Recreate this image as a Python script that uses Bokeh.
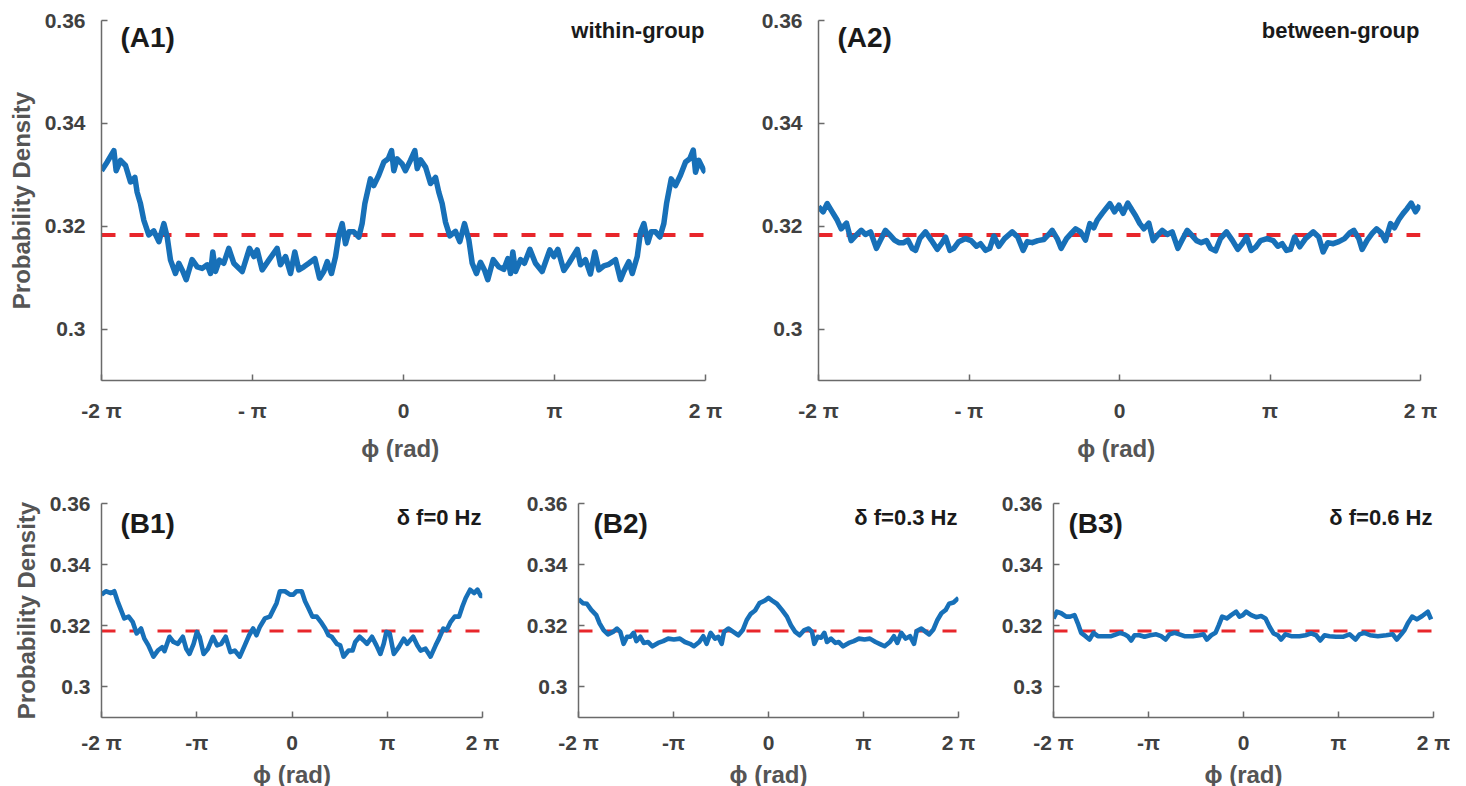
from bokeh.plotting import figure
from bokeh.layouts import column, row
from bokeh.models import Range1d, FixedTicker, PrintfTickFormatter, Label
from bokeh.embed import file_html
from bokeh.resources import INLINE

# ---------------- data (phase in units of pi, probability density) ----------------
x_tick_values = [-2, -1, 0, 1, 2]
x_tick_labels_a = ["-2 π", "- π", "0", "π", "2 π"]
x_tick_labels_b = ["-2 π", "-π", "0", "π", "2 π"]
y_tick_values = [0.30, 0.32, 0.34, 0.36]
uniform_level = 0.3183
ref_phi = [-2, 2]

a1_phi = [-2.000, -1.962, -1.918, -1.903, -1.874, -1.841, -1.808, -1.779, -1.764, -1.742,
          -1.720, -1.687, -1.654, -1.620, -1.587, -1.565, -1.543, -1.510, -1.488, -1.461,
          -1.439, -1.400, -1.366, -1.333, -1.300, -1.278, -1.263, -1.245, -1.219, -1.190,
          -1.157, -1.124, -1.068, -1.020, -0.991, -0.969, -0.936, -0.892, -0.837, -0.815,
          -0.781, -0.748, -0.720, -0.693, -0.660, -0.627, -0.587, -0.556, -0.528, -0.505,
          -0.477, -0.450, -0.428, -0.406, -0.384, -0.362, -0.329, -0.296, -0.274, -0.256,
          -0.219, -0.197, -0.164, -0.130, -0.101, -0.079, -0.064, -0.042, -0.009, 0.013,
          0.046, 0.075, 0.091, 0.113, 0.146, 0.179, 0.212, 0.234, 0.256, 0.278,
          0.307, 0.344, 0.373, 0.404, 0.433, 0.455, 0.483, 0.510, 0.536, 0.558,
          0.594, 0.631, 0.664, 0.691, 0.709, 0.724, 0.742, 0.775, 0.801, 0.837,
          0.874, 0.918, 0.969, 0.996, 1.022, 1.062, 1.095, 1.151, 1.172, 1.205,
          1.238, 1.267, 1.294, 1.327, 1.360, 1.404, 1.437, 1.459, 1.492, 1.515,
          1.548, 1.570, 1.592, 1.618, 1.640, 1.669, 1.698, 1.724, 1.742, 1.773,
          1.801, 1.834, 1.868, 1.896, 1.919, 1.934, 1.956, 1.989, 2.000]
a1_density = [0.3308, 0.3325, 0.3347, 0.3308, 0.3328, 0.3318, 0.3286, 0.3295, 0.3266, 0.3244,
              0.3212, 0.3183, 0.3191, 0.3170, 0.3205, 0.3179, 0.3134, 0.3108, 0.3128, 0.3112,
              0.3096, 0.3135, 0.3121, 0.3118, 0.3125, 0.3108, 0.3150, 0.3112, 0.3134, 0.3128,
              0.3157, 0.3128, 0.3112, 0.3157, 0.3141, 0.3154, 0.3115, 0.3134, 0.3157, 0.3125,
              0.3141, 0.3108, 0.3150, 0.3115, 0.3121, 0.3128, 0.3137, 0.3099, 0.3112, 0.3131,
              0.3108, 0.3141, 0.3183, 0.3205, 0.3166, 0.3189, 0.3189, 0.3179, 0.3205, 0.3244,
              0.3292, 0.3279, 0.3299, 0.3325, 0.3331, 0.3347, 0.3308, 0.3331, 0.3321, 0.3308,
              0.3328, 0.3347, 0.3312, 0.3329, 0.3315, 0.3283, 0.3295, 0.3266, 0.3244, 0.3208,
              0.3181, 0.3190, 0.3170, 0.3205, 0.3173, 0.3128, 0.3108, 0.3130, 0.3115, 0.3096,
              0.3135, 0.3121, 0.3116, 0.3137, 0.3108, 0.3150, 0.3112, 0.3135, 0.3128, 0.3155,
              0.3128, 0.3112, 0.3154, 0.3141, 0.3155, 0.3114, 0.3128, 0.3155, 0.3125, 0.3135,
              0.3107, 0.3150, 0.3115, 0.3123, 0.3126, 0.3135, 0.3096, 0.3112, 0.3131, 0.3108,
              0.3141, 0.3189, 0.3205, 0.3168, 0.3189, 0.3189, 0.3179, 0.3205, 0.3244, 0.3292,
              0.3279, 0.3299, 0.3325, 0.3331, 0.3348, 0.3305, 0.3328, 0.3308, 0.3305]

a2_phi = [-2.000, -1.969, -1.942, -1.909, -1.876, -1.849, -1.814, -1.783, -1.748, -1.716,
          -1.688, -1.654, -1.615, -1.588, -1.555, -1.526, -1.495, -1.466, -1.433, -1.406,
          -1.378, -1.355, -1.327, -1.289, -1.251, -1.211, -1.178, -1.156, -1.127, -1.101,
          -1.068, -1.023, -0.986, -0.950, -0.924, -0.890, -0.862, -0.835, -0.802, -0.764,
          -0.713, -0.676, -0.640, -0.613, -0.580, -0.543, -0.503, -0.470, -0.447, -0.414,
          -0.388, -0.352, -0.321, -0.292, -0.259, -0.226, -0.197, -0.171, -0.148, -0.115,
          -0.064, -0.033, -0.004, 0.024, 0.055, 0.084, 0.106, 0.135, 0.162, 0.195,
          0.224, 0.255, 0.284, 0.317, 0.350, 0.388, 0.416, 0.450, 0.478, 0.512,
          0.543, 0.578, 0.605, 0.638, 0.671, 0.711, 0.749, 0.786, 0.815, 0.844,
          0.875, 0.904, 0.937, 0.981, 1.021, 1.052, 1.081, 1.110, 1.136, 1.163,
          1.198, 1.236, 1.287, 1.324, 1.353, 1.384, 1.420, 1.457, 1.495, 1.530,
          1.557, 1.590, 1.612, 1.646, 1.679, 1.708, 1.739, 1.767, 1.801, 1.827,
          1.856, 1.885, 1.911, 1.938, 1.967, 1.996]
a2_density = [0.3238, 0.3228, 0.3244, 0.3228, 0.3212, 0.3195, 0.3206, 0.3172, 0.3183, 0.3192,
              0.3184, 0.3189, 0.3157, 0.3173, 0.3192, 0.3183, 0.3173, 0.3168, 0.3168, 0.3173,
              0.3157, 0.3153, 0.3176, 0.3189, 0.3173, 0.3155, 0.3168, 0.3179, 0.3153, 0.3157,
              0.3170, 0.3176, 0.3172, 0.3161, 0.3166, 0.3153, 0.3157, 0.3181, 0.3161, 0.3176,
              0.3189, 0.3179, 0.3153, 0.3170, 0.3168, 0.3172, 0.3174, 0.3184, 0.3192, 0.3176,
              0.3157, 0.3176, 0.3186, 0.3195, 0.3189, 0.3173, 0.3205, 0.3197, 0.3212, 0.3225,
              0.3244, 0.3228, 0.3241, 0.3225, 0.3245, 0.3231, 0.3221, 0.3205, 0.3195, 0.3206,
              0.3172, 0.3183, 0.3192, 0.3184, 0.3189, 0.3157, 0.3173, 0.3192, 0.3183, 0.3172,
              0.3168, 0.3172, 0.3157, 0.3152, 0.3176, 0.3189, 0.3173, 0.3155, 0.3166, 0.3179,
              0.3153, 0.3159, 0.3172, 0.3176, 0.3172, 0.3161, 0.3166, 0.3153, 0.3155, 0.3179,
              0.3160, 0.3176, 0.3189, 0.3179, 0.3150, 0.3168, 0.3166, 0.3170, 0.3176, 0.3187,
              0.3192, 0.3176, 0.3155, 0.3173, 0.3186, 0.3195, 0.3187, 0.3172, 0.3205, 0.3197,
              0.3213, 0.3225, 0.3234, 0.3245, 0.3228, 0.3241]

b1_phi = [-2.000, -1.954, -1.902, -1.866, -1.831, -1.796, -1.761, -1.715, -1.673, -1.631,
          -1.585, -1.550, -1.508, -1.455, -1.409, -1.364, -1.339, -1.286, -1.244, -1.199,
          -1.146, -1.111, -1.076, -1.033, -0.998, -0.970, -0.928, -0.882, -0.830, -0.787,
          -0.742, -0.696, -0.647, -0.601, -0.548, -0.496, -0.450, -0.408, -0.373, -0.337,
          -0.285, -0.232, -0.197, -0.162, -0.127, -0.074, -0.021, 0.014, 0.049, 0.102,
          0.137, 0.172, 0.214, 0.260, 0.302, 0.348, 0.383, 0.418, 0.471, 0.506,
          0.541, 0.594, 0.636, 0.664, 0.710, 0.752, 0.787, 0.840, 0.886, 0.928,
          0.963, 0.991, 1.026, 1.069, 1.121, 1.174, 1.209, 1.272, 1.315, 1.350,
          1.402, 1.455, 1.508, 1.543, 1.589, 1.624, 1.666, 1.708, 1.754, 1.789,
          1.824, 1.870, 1.912, 1.947, 1.982, 2.000]
b1_density = [0.3302, 0.3313, 0.3307, 0.3313, 0.3280, 0.3252, 0.3224, 0.3230, 0.3213, 0.3175,
              0.3191, 0.3158, 0.3136, 0.3099, 0.3119, 0.3130, 0.3117, 0.3164, 0.3147, 0.3141,
              0.3164, 0.3125, 0.3108, 0.3141, 0.3180, 0.3164, 0.3108, 0.3125, 0.3164, 0.3136,
              0.3141, 0.3164, 0.3114, 0.3119, 0.3099, 0.3136, 0.3169, 0.3191, 0.3169, 0.3197,
              0.3224, 0.3230, 0.3252, 0.3274, 0.3313, 0.3313, 0.3302, 0.3302, 0.3313, 0.3313,
              0.3280, 0.3258, 0.3230, 0.3230, 0.3213, 0.3191, 0.3169, 0.3164, 0.3141, 0.3136,
              0.3099, 0.3119, 0.3119, 0.3147, 0.3164, 0.3152, 0.3141, 0.3164, 0.3136, 0.3108,
              0.3141, 0.3180, 0.3175, 0.3108, 0.3130, 0.3158, 0.3141, 0.3164, 0.3136, 0.3119,
              0.3125, 0.3099, 0.3136, 0.3158, 0.3191, 0.3186, 0.3213, 0.3230, 0.3230, 0.3263,
              0.3291, 0.3318, 0.3307, 0.3318, 0.3298, 0.3298]

b2_phi = [-2.000, -1.954, -1.912, -1.866, -1.813, -1.778, -1.736, -1.690, -1.637, -1.595,
          -1.560, -1.525, -1.489, -1.454, -1.419, -1.391, -1.349, -1.313, -1.268, -1.222,
          -1.162, -1.109, -1.056, -0.996, -0.933, -0.880, -0.827, -0.785, -0.729, -0.687,
          -0.651, -0.609, -0.563, -0.528, -0.493, -0.468, -0.423, -0.370, -0.317, -0.271,
          -0.229, -0.187, -0.141, -0.095, -0.035, 0.000, 0.035, 0.088, 0.141, 0.194,
          0.236, 0.282, 0.327, 0.377, 0.423, 0.458, 0.482, 0.518, 0.553, 0.588,
          0.616, 0.658, 0.704, 0.739, 0.785, 0.845, 0.898, 0.951, 1.011, 1.067,
          1.127, 1.180, 1.222, 1.278, 1.320, 1.356, 1.398, 1.444, 1.489, 1.532,
          1.560, 1.609, 1.655, 1.690, 1.736, 1.778, 1.820, 1.866, 1.901, 1.947, 2.000]
b2_density = [0.3287, 0.3274, 0.3272, 0.3252, 0.3235, 0.3208, 0.3186, 0.3172, 0.3180, 0.3191,
              0.3180, 0.3141, 0.3164, 0.3164, 0.3177, 0.3150, 0.3164, 0.3144, 0.3147, 0.3133,
              0.3144, 0.3150, 0.3158, 0.3155, 0.3158, 0.3147, 0.3141, 0.3133, 0.3147, 0.3166,
              0.3141, 0.3177, 0.3158, 0.3164, 0.3141, 0.3180, 0.3191, 0.3180, 0.3169, 0.3186,
              0.3219, 0.3239, 0.3250, 0.3274, 0.3283, 0.3291, 0.3283, 0.3272, 0.3252, 0.3230,
              0.3202, 0.3180, 0.3169, 0.3186, 0.3191, 0.3180, 0.3141, 0.3164, 0.3161, 0.3177,
              0.3147, 0.3158, 0.3144, 0.3147, 0.3133, 0.3144, 0.3150, 0.3158, 0.3155, 0.3158,
              0.3147, 0.3139, 0.3133, 0.3147, 0.3166, 0.3144, 0.3177, 0.3158, 0.3166, 0.3141,
              0.3183, 0.3191, 0.3180, 0.3172, 0.3188, 0.3219, 0.3241, 0.3252, 0.3272, 0.3276, 0.3291]

b3_phi = [-2.000, -1.965, -1.919, -1.867, -1.825, -1.779, -1.744, -1.709, -1.663, -1.621,
          -1.579, -1.533, -1.463, -1.393, -1.340, -1.298, -1.253, -1.218, -1.182, -1.147,
          -1.095, -1.042, -0.982, -0.919, -0.867, -0.821, -0.779, -0.726, -0.674, -0.621,
          -0.533, -0.463, -0.421, -0.386, -0.340, -0.295, -0.260, -0.225, -0.175, -0.130,
          -0.077, -0.042, -0.007, 0.028, 0.081, 0.133, 0.186, 0.232, 0.274, 0.316,
          0.361, 0.396, 0.442, 0.502, 0.589, 0.653, 0.712, 0.765, 0.807, 0.853,
          0.905, 0.975, 1.046, 1.116, 1.179, 1.221, 1.274, 1.333, 1.414, 1.502,
          1.572, 1.614, 1.660, 1.695, 1.730, 1.775, 1.825, 1.881, 1.940, 1.975]
b3_density = [0.3224, 0.3246, 0.3241, 0.3230, 0.3230, 0.3235, 0.3208, 0.3177, 0.3166, 0.3155,
              0.3177, 0.3166, 0.3166, 0.3166, 0.3172, 0.3177, 0.3172, 0.3166, 0.3152, 0.3169,
              0.3169, 0.3164, 0.3169, 0.3172, 0.3166, 0.3155, 0.3172, 0.3177, 0.3172, 0.3166,
              0.3166, 0.3169, 0.3172, 0.3155, 0.3169, 0.3177, 0.3202, 0.3230, 0.3224, 0.3235,
              0.3246, 0.3230, 0.3235, 0.3246, 0.3235, 0.3228, 0.3232, 0.3224, 0.3197, 0.3175,
              0.3169, 0.3155, 0.3172, 0.3166, 0.3166, 0.3169, 0.3175, 0.3169, 0.3152, 0.3169,
              0.3166, 0.3164, 0.3164, 0.3172, 0.3155, 0.3172, 0.3177, 0.3169, 0.3166, 0.3169,
              0.3172, 0.3155, 0.3172, 0.3186, 0.3208, 0.3230, 0.3221, 0.3232, 0.3246, 0.3221]

# ---------------- styling ----------------
FONT = "Liberation Sans"
BLUE = "#1770b8"
RED = "#e8262b"
AXIS = "#6a6a6a"
TICK = "#404040"
DARK = "#1a1a1a"


def panel(phi, dens, tick_labels, fw, fh, bl, br, bt, bb, tag, tag_dx, tag_dy,
          note, note_dx, note_dy, note_size, ylabel, xlabel, lw, big):
    p = figure(frame_width=fw, frame_height=fh,
               x_range=Range1d(-2, 2), y_range=Range1d(0.29, 0.36),
               output_backend="svg", toolbar_location=None,
               min_border_left=bl, min_border_right=br,
               min_border_top=bt, min_border_bottom=bb,
               outline_line_color=None, background_fill_color="white",
               border_fill_color="white")
    p.grid.visible = False

    p.line(ref_phi, [uniform_level, uniform_level], line_color=RED,
           line_width=lw - 1.5, line_dash="14 14")
    p.line(phi, dens, line_color=BLUE, line_width=lw, line_join="round")

    xa = p.xaxis[0]
    ya = p.yaxis[0]
    xa.ticker = FixedTicker(ticks=x_tick_values)
    xa.major_label_overrides = {v: t for v, t in zip(x_tick_values, tick_labels)}
    ya.ticker = FixedTicker(ticks=y_tick_values)
    ya.formatter = PrintfTickFormatter(format="%g")
    for ax in (xa, ya):
        ax.axis_line_color = AXIS
        ax.axis_line_width = 1.5
        ax.major_tick_line_color = AXIS
        ax.major_tick_line_width = 1.5
        ax.major_tick_in = 6
        ax.major_tick_out = 0
        ax.minor_tick_line_color = None
        ax.major_label_text_font = FONT
        ax.major_label_text_font_style = "bold"
        ax.major_label_text_font_size = "21px"
        ax.major_label_text_color = TICK
        ax.axis_label_text_font = FONT
        ax.axis_label_text_font_style = "bold"
        ax.axis_label_text_color = "#555555"
    ya.major_label_standoff = 16 if big else 11
    xa.major_label_standoff = 18 if big else 13
    xa.axis_label = xlabel
    xa.axis_label_text_font_size = "24px"
    xa.axis_label_standoff = 10 if big else 4
    if ylabel:
        ya.axis_label = ylabel
        ya.axis_label_text_font_size = "24px"
        ya.axis_label_standoff = 7

    p.add_layout(Label(x=-2, y=0.36, x_offset=tag_dx, y_offset=tag_dy, text=tag,
                       text_font=FONT, text_font_style="bold", text_font_size="28px",
                       text_color=DARK, text_align="left", text_baseline="top"))
    p.add_layout(Label(x=2, y=0.36, x_offset=note_dx, y_offset=note_dy, text=note,
                       text_font=FONT, text_font_style="bold", text_font_size=note_size,
                       text_color=DARK, text_align="right", text_baseline="top"))
    return p


a1 = panel(a1_phi, a1_density, x_tick_labels_a, 604, 360, 101, 20, 20, 100,
           "(A1)", 19, -1, "within-group", -1, 3, "22px", "Probability Density", "ϕ  (rad)", 5.5, True)
a2 = panel(a2_phi, a2_density, x_tick_labels_a, 602, 360, 93, 30, 20, 100,
           "(A2)", 19, -1, "between-group", -1, 3, "22px", None, "ϕ  (rad)", 5.5, True)
b1 = panel(b1_phi, b1_density, x_tick_labels_b, 381, 214, 101, 20, 23, 66,
           "(B1)", 19, -4, "δ f=0 Hz", -1, -1, "22px", "Probability Density", "ϕ (rad)", 4.6, False)
b2 = panel(b2_phi, b2_density, x_tick_labels_b, 380, 214, 76, 20, 23, 66,
           "(B2)", 15, -4, "δ f=0.3 Hz", -1, -1, "22px", None, "ϕ (rad)", 4.6, False)
b3 = panel(b3_phi, b3_density, x_tick_labels_b, 380, 214, 75, 17, 23, 66,
           "(B3)", 15, -4, "δ f=0.6 Hz", -1, -1, "22px", None, "ϕ (rad)", 4.6, False)

layout = column(row(a1, a2, spacing=0), row(b1, b2, b3, spacing=0), spacing=0)

open("out.html", "w").write(file_html(layout, INLINE))
